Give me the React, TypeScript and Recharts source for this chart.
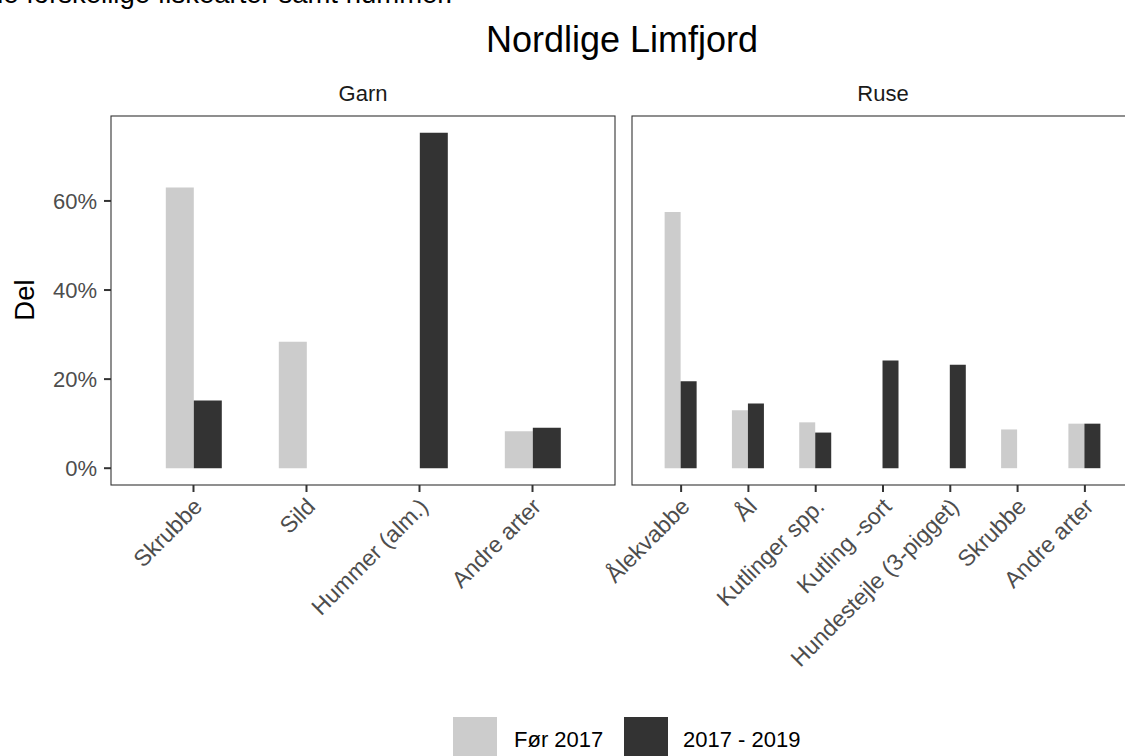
import React from "react"
import { BarChart, Bar, XAxis, YAxis } from "recharts"

// Garn
const garnArter = ["Skrubbe", "Sild", "Hummer (alm.)", "Andre arter"]
const garnFoer2017 = [63.0, 28.4, 0, 8.3]
const garnNy = [15.2, 0, 75.3, 9.1]

// Ruse
const ruseArter = [
  "Ålekvabbe",
  "Ål",
  "Kutlinger spp.",
  "Kutling -sort",
  "Hundestejle (3-pigget)",
  "Skrubbe",
  "Andre arter",
]
const ruseFoer2017 = [57.5, 13.0, 10.3, 0, 0, 8.7, 10.0]
const ruseNy = [19.5, 14.5, 8.0, 24.2, 23.2, 0, 10.0]

const yTicks = [0, 20, 40, 60]
const serieNavne = ["Før 2017", "2017 - 2019"]

const LYS = "#cccccc"
const MORK = "#333333"
const FONT = "'Liberation Sans', Arial, Helvetica, sans-serif"

const garnData = garnArter.map((art, i) => ({ art, foer: garnFoer2017[i], ny: garnNy[i] }))
const ruseData = ruseArter.map((art, i) => ({ art, foer: ruseFoer2017[i], ny: ruseNy[i] }))

// panelgeometri (som i ggplot-facetterne)
const TOP = 116
const BUND = 485
const VENSTRE_L = 111
const VENSTRE_B = 504
const HOJRE_L = 632
const HOJRE_B = 502
const AKSE_H = 230

function SkraaTick(props: any) {
  const { x, y, payload } = props
  return (
    <g transform={`translate(${x + 10},${y + 16})`}>
      <text
        transform="rotate(-45)"
        textAnchor="end"
        fill="#4d4d4d"
        fontSize={23}
        fontFamily={FONT}
      >
        {payload.value}
      </text>
    </g>
  )
}

function Panel({ data, left, width, n, visY }: { data: any[]; left: number; width: number; n: number; visY: boolean }) {
  const band = width / (n + 0.46)
  const pad = 0.23 * band
  // venstre rum: y-akse for Garn, blot luft til skrå etiketter for Ruse
  const chartLeft = visY ? 0 : left - 120
  const yW = visY ? left : 0
  const marginLeft = visY ? 0 : 120
  return (
    <div style={{ position: "absolute", left: chartLeft, top: 0 }}>
      <BarChart
        width={marginLeft + yW + width}
        height={BUND + AKSE_H}
        data={data}
        margin={{ top: TOP, right: 0, bottom: 0, left: marginLeft }}
        barCategoryGap="25.5%"
        barGap={0}
      >
        <XAxis
          dataKey="art"
          type="category"
          interval={0}
          padding={{ left: pad, right: pad }}
          height={AKSE_H}
          axisLine={false}
          tickSize={7}
          tickMargin={0}
          tickLine={{ stroke: "#333", strokeWidth: 2 }}
          tick={<SkraaTick />}
        />
        <YAxis
          hide={!visY}
          width={yW}
          type="number"
          domain={[-3.77, 79.07]}
          allowDataOverflow
          ticks={yTicks}
          interval={0}
          axisLine={false}
          tickSize={7}
          tickMargin={7}
          tickLine={{ stroke: "#333", strokeWidth: 2 }}
          tickFormatter={(v: number) => `${v}%`}
          tick={{ fill: "#4d4d4d", fontSize: 22, fontFamily: FONT }}
        />
        <Bar dataKey="foer" name={serieNavne[0]} fill={LYS} isAnimationActive={false} />
        <Bar dataKey="ny" name={serieNavne[1]} fill={MORK} isAnimationActive={false} />
      </BarChart>
    </div>
  )
}

export default function App() {
  return (
    <div
      style={{
        position: "fixed",
        left: 0,
        top: 0,
        width: 1125,
        height: 756,
        overflow: "hidden",
        background: "#fff",
        fontFamily: FONT,
      }}
    >
      <Panel data={garnData} left={VENSTRE_L} width={VENSTRE_B} n={garnArter.length} visY />
      <Panel data={ruseData} left={HOJRE_L} width={HOJRE_B} n={ruseArter.length} visY={false} />
      <svg
        width={1125}
        height={756}
        style={{ position: "absolute", left: 0, top: 0, pointerEvents: "none" }}
      >
        <text x={-12} y={3} fontSize={27.5} fill="#000" fontFamily={FONT}>
          de forskellige fiskearter samt hummer.
        </text>
        <text x={622} y={52} fontSize={36} textAnchor="middle" fill="#000" fontFamily={FONT}>
          Nordlige Limfjord
        </text>
        <text x={VENSTRE_L + VENSTRE_B / 2} y={101} fontSize={22} textAnchor="middle" fill="#1a1a1a" fontFamily={FONT}>
          Garn
        </text>
        <text x={HOJRE_L + HOJRE_B / 2} y={101} fontSize={22} textAnchor="middle" fill="#1a1a1a" fontFamily={FONT}>
          Ruse
        </text>
        <rect x={VENSTRE_L} y={TOP} width={VENSTRE_B} height={BUND - TOP} fill="none" stroke="#333" strokeWidth={1.1} />
        <rect x={HOJRE_L} y={TOP} width={HOJRE_B} height={BUND - TOP} fill="none" stroke="#333" strokeWidth={1.1} />
        <text
          transform="translate(34,300) rotate(-90)"
          textAnchor="middle"
          fontSize={27.5}
          fill="#000"
          fontFamily={FONT}
        >
          Del
        </text>
        {/* legende */}
        <rect x={453} y={717} width={44} height={44} fill={LYS} />
        <text x={514} y={747} fontSize={22} fill="#000" fontFamily={FONT}>
          {serieNavne[0]}
        </text>
        <rect x={624} y={717} width={44} height={44} fill={MORK} />
        <text x={683} y={747} fontSize={22} fill="#000" fontFamily={FONT}>
          {serieNavne[1]}
        </text>
      </svg>
    </div>
  )
}
